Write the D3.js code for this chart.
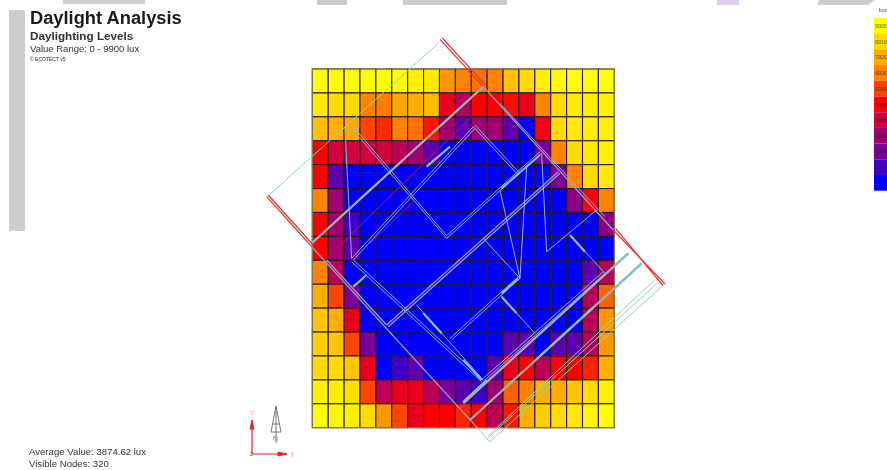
<!DOCTYPE html>
<html>
<head>
<meta charset="utf-8">
<script src="https://cdn.jsdelivr.net/npm/d3@7"></script>
<style>
  html, body { margin: 0; background: #fff; overflow: hidden; }
  svg { display: block; }
  text { font-family: "Liberation Sans", Arial, sans-serif; }
</style>
</head>
<body>
<svg width="887" height="470"></svg>
<script>
// lux levels per row
const lux = [
  [9900,9900,9900,9900,9900,9800,9500,9400,7500,7000,6700,7000,8400,9000,9500,9800,9900,9900,9900],
  [9400,9000,8900,7000,6900,7900,8000,8300,4500,3400,5000,5000,5100,4500,7000,9000,9400,9500,9500],
  [8400,8000,7900,6000,5600,7000,6700,5300,3000,1500,3000,3000,1500,0,4800,9000,9400,9500,9500],
  [5000,4000,4000,4000,4000,3500,3000,1500,0,0,0,0,0,0,2000,7000,9000,9400,9500],
  [5000,1500,0,0,0,0,0,0,0,0,0,0,0,0,0,2000,7000,9000,9400],
  [7000,3000,0,0,0,0,0,0,0,0,0,0,0,0,0,0,2500,5000,7000],
  [5000,3000,1000,0,0,0,0,0,0,0,0,0,0,0,0,0,0,0,2500],
  [5000,3000,1500,0,0,0,0,0,0,0,0,0,0,0,0,0,0,0,0],
  [7000,3500,0,0,0,0,0,0,0,0,0,0,0,0,0,0,0,1500,3500],
  [8000,6000,2000,0,0,0,0,0,0,0,0,0,0,0,0,0,0,3500,6500],
  [8500,8000,4500,0,0,0,0,0,0,0,0,0,0,0,0,0,0,3500,7500],
  [8700,8500,6000,2000,0,0,0,0,0,0,0,0,1500,1500,0,1500,1500,3500,7500],
  [9000,9000,8500,4500,0,1000,1500,0,0,0,0,1500,4500,5000,3500,5000,5000,5500,8000],
  [9500,9500,9000,6000,3500,4500,4500,3500,2000,1500,1000,3000,6500,7000,8000,8000,8500,9000,9500],
  [9950,9700,9500,9000,7500,6000,4500,5000,5000,5500,5000,3500,5300,8000,8700,9000,9300,9700,9950]
];

// legend
const legendValues = [9900,8910,7920,6930,5940,4950,3960,2970,1980,990,0];
const legendColors = ['#ffff00','#ffd800','#ffaa00','#ff8000','#ff4000','#ff0000','#d00040','#a00070','#7a0098','#4000c8','#0000ff'];

// building plan, in model units from the grid's top left corner (906 x 1076)
const siteLines = [
  [[378,-77],[-132,380],[-2,533]],
  [[533,1118],[483,1063]],
  [[533,1118],[1053,648],[1000,590]],
  [[523,1110],[1038,640]],
  [[528,1100],[1030,630]]
];
const redWalls = [
  [[383,-89],[513,53]],
  [[390,-93],[520,49]],
  [[903,483],[1058,645]],
  [[910,478],[1052,650]],
  [[-137,383],[-2,533]],
  [[-132,378],[3,528]]
];
const thickWalls = [
  [[-2,523],[513,53]],
  [[473,1053],[988,583]],
  [[453,1003],[948,553]]
];
const greyWalls = [
  [[513,53],[903,483]],
  [[-2,533],[483,1063]],
  [[43,573],[223,768]],
  [[223,768],[738,308]],
  [[228,773],[743,313]]
];
const paleWalls = [
  [[98,178],[118,568]],
  [[118,568],[483,173]],
  [[123,573],[488,178]],
  [[123,573],[513,933]],
  [[118,578],[508,938]],
  [[483,173],[613,313]],
  [[488,168],[618,308]],
  [[113,173],[403,508],[688,253]],
  [[118,168],[403,500],[683,248]],
  [[688,253],[703,548],[853,423]],
  [[563,363],[623,628]],
  [[643,293],[623,628]],
  [[513,508],[623,628]],
  [[623,628],[418,813]],
  [[618,623],[413,808]],
  [[568,683],[668,793]],
  [[313,708],[513,933]],
  [[773,498],[878,613]],
  [[518,933],[878,613]],
  [[513,928],[873,608]],
  [[563,103],[878,443]]
];
const redThin = [
  [[38,573],[483,138]],
  [[173,523],[303,398]]
];
const tealSegments = [
  [[343,293],[413,233]],
  [[568,358],[683,258]],
  [[123,653],[163,618]],
  [[333,733],[388,793]],
  [[453,873],[508,933]],
  [[568,683],[613,733]],
  [[568,673],[618,628]],
  [[773,498],[818,548]],
  [[453,998],[523,933]],
  [[683,861],[843,715]],
  [[906,590],[948,553]],
  [[906,659],[988,583]]
];

const svg = d3.select('svg');

// slight softening, the source is a scaled screenshot
const defs = svg.append('defs');
defs.append('filter').attr('id', 'soft')
  .append('feGaussianBlur').attr('stdDeviation', 0.7);

const root = svg.append('g').attr('filter', 'url(#soft)');

// grey bits of the page behind the screenshot
root.append('rect').attr('x', 9).attr('y', 10).attr('width', 16).attr('height', 221).attr('fill', '#cdcdcd');
root.append('rect').attr('x', 63).attr('y', 0).attr('width', 82).attr('height', 4).attr('fill', '#cdcdcd');
root.append('rect').attr('x', 317).attr('y', 0).attr('width', 30).attr('height', 5).attr('fill', '#cdcdcd');
root.append('rect').attr('x', 403).attr('y', 0).attr('width', 104).attr('height', 5).attr('fill', '#cdcdcd');
root.append('rect').attr('x', 717).attr('y', 0).attr('width', 22).attr('height', 5).attr('fill', '#e0d0f0');
root.append('path').attr('d', 'M819,0H875L868,5H817Z').attr('fill', '#cdcdcd');

// scales
const xBand = d3.scaleBand().domain(d3.range(lux[0].length)).range([312.3, 614.3]);
const yBand = d3.scaleBand().domain(d3.range(lux.length)).range([69, 427.7]);

const color = d3.scaleLinear()
  .domain(legendValues)
  .range(legendColors);

const px = d3.scaleLinear().domain([0, 906]).range([312.3, 614.3]);
const py = d3.scaleLinear().domain([0, 1076]).range([69, 427.7]);

// heat cells
root.append('g').selectAll('g').data(lux).enter().append('g')
  .each(function (row, r) {
    d3.select(this).selectAll('rect').data(row).enter().append('rect')
      .attr('x', (d, c) => xBand(c))
      .attr('y', yBand(r))
      .attr('width', xBand.bandwidth())
      .attr('height', yBand.bandwidth())
      .attr('fill', d => color(d))
      .attr('stroke', '#2a1a20')
      .attr('stroke-width', 1.1);
  });

// frame of the grid
root.append('rect')
  .attr('x', xBand.range()[0]).attr('y', yBand.range()[0])
  .attr('width', xBand.range()[1] - xBand.range()[0])
  .attr('height', yBand.range()[1] - yBand.range()[0])
  .attr('fill', 'none').attr('stroke', '#8f8a50').attr('stroke-width', 1);

// building overlay
const line = d3.line().x(d => px(d[0])).y(d => py(d[1]));
const drawLines = (lines, stroke, width) => {
  root.append('g').selectAll('path').data(lines).enter().append('path')
    .attr('d', line)
    .attr('fill', 'none')
    .attr('stroke', stroke)
    .attr('stroke-width', width);
};

drawLines(siteLines, '#80dcb8', 1);
drawLines(greyWalls, '#9fa0c4', 1.3);
drawLines(paleWalls, '#8cb2f0', 1);
drawLines(redThin, '#c01850', 0.9);
drawLines(thickWalls, '#a4b0b4', 2.2);
drawLines(tealSegments, '#88c0c0', 2.2);
drawLines(redWalls, '#e83838', 1.3);

// legend
const legendY = d3.scaleBand().domain(legendValues).range([18, 190.7]);
const legend = root.append('g');
legend.selectAll('rect').data(legendValues).enter().append('rect')
  .attr('x', 874).attr('y', d => legendY(d))
  .attr('width', 14).attr('height', legendY.bandwidth())
  .attr('fill', (d, i) => legendColors[i]);
legend.selectAll('text').data(legendValues).enter().append('text')
  .attr('x', 875).attr('y', d => legendY(d) + legendY.bandwidth() / 2 + 2.2)
  .attr('font-size', 5.4).attr('fill', '#222').attr('fill-opacity', 0.7)
  .text(d => d);
legend.append('text').attr('x', 879).attr('y', 12)
  .attr('font-size', 6).attr('fill', '#444').text('lux');

// titles
const label = (x, y, size, weight, fill, str) => root.append('text')
  .attr('x', x).attr('y', y).attr('font-size', size)
  .attr('font-weight', weight).attr('fill', fill).text(str);

label(30, 24, 18.3, 'bold', '#1a1a1a', 'Daylight Analysis');
label(30, 40, 11.7, 'bold', '#333', 'Daylighting Levels');
label(30, 52, 9.5, 'normal', '#333', 'Value Range: 0 - 9900 lux');
label(30, 61, 5, 'normal', '#222', '© ECOTECT v5');
label(29, 455, 9.6, 'normal', '#333', 'Average Value: 3874.62 lux');
label(29, 467, 9.6, 'normal', '#333', 'Visible Nodes: 320');

// axis marker and north arrow
const axisX = d3.scaleLinear().domain([0, 1]).range([252, 287]);
const axisY = d3.scaleLinear().domain([0, 1]).range([454, 420]);
const marker = root.append('g').attr('stroke', '#ee2030').attr('fill', '#ee2030');
marker.append('line').attr('x1', axisX(0)).attr('y1', axisY(0)).attr('x2', axisX(1)).attr('y2', axisY(0)).attr('stroke-width', 1.2);
marker.append('line').attr('x1', axisX(0)).attr('y1', axisY(0)).attr('x2', axisX(0)).attr('y2', axisY(1)).attr('stroke-width', 1.2);
marker.append('path').attr('d', `M${axisX(1)},${axisY(0)}l-9,-2l0,4Z`);
marker.append('path').attr('d', `M${axisX(0)},${axisY(1)}l-2,9l4,0Z`);
label(290, 457, 7, 'normal', '#e8a0a8', 'X');
label(250, 415, 7, 'normal', '#e8a0a8', 'Y');
label(250, 456, 5, 'normal', '#a03040', 'Z');

const north = root.append('g').attr('stroke', '#777').attr('fill', 'none').attr('stroke-width', 1);
north.append('path').attr('d', 'M276,406V443M276,406L271,432H281ZM272.5,424H279.5');
label(273, 441, 7, 'normal', '#888', 'N');
</script>
</body>
</html>
